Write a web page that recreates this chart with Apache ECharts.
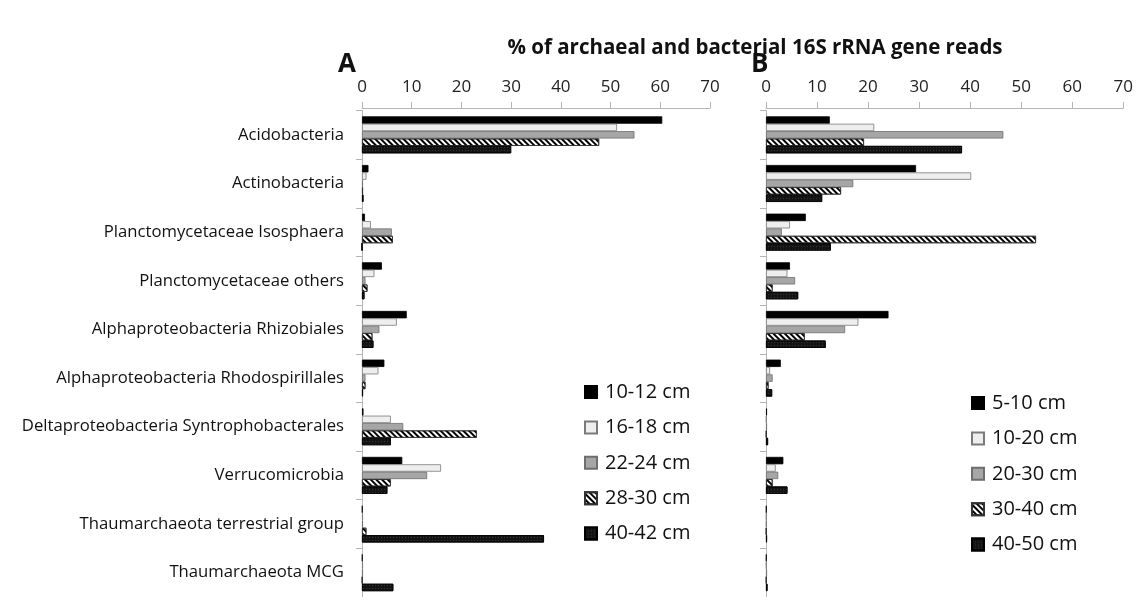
<!DOCTYPE html>
<html>
<head>
<meta charset="utf-8">
<script src="https://cdn.jsdelivr.net/npm/echarts@6/dist/echarts.min.js"></script>
<style>
  html, body { margin: 0; padding: 0; background: #fff; }
  #chart { width: 1136px; height: 597px; }
</style>
</head>
<body>
<div id="chart"></div>
<script>
// categories (top to bottom)
var categories = [
  'Acidobacteria',
  'Actinobacteria',
  'Planctomycetaceae Isosphaera',
  'Planctomycetaceae others',
  'Alphaproteobacteria Rhizobiales',
  'Alphaproteobacteria Rhodospirillales',
  'Deltaproteobacteria Syntrophobacterales',
  'Verrucomicrobia',
  'Thaumarchaeota terrestrial group',
  'Thaumarchaeota MCG'
];
var xTicks = [0, 70, 10];

// panel A depths
var depthsA = ['10-12 cm', '16-18 cm', '22-24 cm', '28-30 cm', '40-42 cm'];
var a1012 = [60.4, 1.3, 0.6, 4.0, 9.0, 4.5, 0.3, 8.1, 0.1, 0.1];
var a1618 = [51.3, 0.9, 1.8, 2.5, 7.0, 3.3, 5.8, 15.9, 0.2, 0.2];
var a2224 = [54.8, 0.2, 6.0, 0.7, 3.5, 0.7, 8.3, 13.1, 0.2, 0.2];
var a2830 = [47.7, 0.2, 6.2, 1.1, 2.1, 0.7, 23.1, 5.8, 0.9, 0.1];
var a4042 = [30.0, 0.3, 0.0, 0.5, 2.3, 0.2, 5.8, 5.1, 36.6, 6.3];

// panel B depths
var depthsB = ['5-10 cm', '10-20 cm', '20-30 cm', '30-40 cm', '40-50 cm'];
var b0510 = [12.5, 29.4, 7.8, 4.7, 24.0, 2.9, 0.2, 3.4, 0.1, 0.1];
var b1020 = [21.2, 40.2, 4.7, 4.2, 18.1, 0.8, 0.1, 1.9, 0.1, 0.1];
var b2030 = [46.5, 17.1, 3.1, 5.7, 15.5, 1.3, 0.2, 2.4, 0.1, 0.2];
var b3040 = [19.2, 14.7, 52.9, 1.3, 7.6, 0.5, 0.1, 1.3, 0.1, 0.1];
var b4050 = [38.4, 11.0, 12.7, 6.3, 11.7, 1.2, 0.4, 4.2, 0.2, 0.3];

var FONT = 'Open Sans';

// fill styles, one per depth position
var fills = [
  { color: '#000000', borderColor: '#000000', borderWidth: 0.8 },
  { color: '#eeeeee', borderColor: '#7a7a7a', borderWidth: 0.8 },
  { color: '#a6a6a6', borderColor: '#6e6e6e', borderWidth: 0.8 },
  { color: '#ffffff', borderColor: '#333333', borderWidth: 0.8,
    decal: { symbol: 'rect', symbolSize: 1, color: '#000000',
             dashArrayX: [1, 0], dashArrayY: [2, 2], rotation: Math.PI / 4 } },
  { color: '#141414', borderColor: '#000000', borderWidth: 0.8,
    decal: { symbol: 'rect', symbolSize: 1, color: 'rgba(90,90,90,0.45)',
             dashArrayX: [1, 2], dashArrayY: [1, 2], rotation: 0 } }
];

function makeSeries(names, values, idx) {
  return names.map(function (n, i) {
    return {
      name: n,
      type: 'bar',
      xAxisIndex: idx,
      yAxisIndex: idx,
      barGap: '0%',
      barCategoryGap: '24%',
      itemStyle: fills[i],
      data: values[i]
    };
  });
}

function xAxisCfg(idx) {
  return {
    type: 'value',
    gridIndex: idx,
    position: 'top',
    offset: 2.5,
    min: xTicks[0],
    max: xTicks[1],
    interval: xTicks[2],
    axisLine: { show: true, lineStyle: { color: '#b5b5b5', width: 1 } },
    axisTick: { show: true, length: 6, lineStyle: { color: '#b5b5b5' } },
    axisLabel: { fontFamily: FONT, fontSize: 17, color: '#222', margin: 12 },
    splitLine: { show: false }
  };
}

function yAxisCfg(idx, showLabels) {
  return {
    type: 'category',
    gridIndex: idx,
    inverse: true,
    data: categories,
    axisLine: { show: true, lineStyle: { color: '#b5b5b5', width: 1 } },
    axisTick: { show: true, length: 6, lineStyle: { color: '#b5b5b5' } },
    axisLabel: { show: showLabels, fontFamily: FONT, fontSize: 16.7, color: '#111', margin: 18 }
  };
}

function legendCfg(names, left, top) {
  return {
    data: names, orient: 'vertical', left: left, top: top,
    itemWidth: 12, itemHeight: 12, itemGap: 15.4, icon: 'rect',
    textStyle: { fontFamily: FONT, fontSize: 20, color: '#111', lineHeight: 18, padding: [0, 0, 0, 3] }
  };
}

var chart = echarts.init(document.getElementById('chart'), null, { renderer: 'canvas' });
var option = {
  backgroundColor: '#ffffff',
  animation: false,
  title: [
    { text: '% of archaeal and bacterial 16S rRNA gene reads', left: 750, top: 33, textAlign: 'center',
      textStyle: { fontFamily: FONT, fontSize: 20.5, fontWeight: 'bold', color: '#111' } },
    { text: 'A', left: 333, top: 47,
      textStyle: { fontFamily: FONT, fontSize: 26, fontWeight: 'bold', color: '#111' } },
    { text: 'B', left: 746, top: 47,
      textStyle: { fontFamily: FONT, fontSize: 26, fontWeight: 'bold', color: '#111' } }
  ],
  grid: [
    { left: 362, width: 348, top: 110.5, height: 493.5, containLabel: false },
    { left: 766, width: 358, top: 110.5, height: 493.5, containLabel: false }
  ],
  legend: [legendCfg(depthsA, 579, 377), legendCfg(depthsB, 966, 388)],
  xAxis: [xAxisCfg(0), xAxisCfg(1)],
  yAxis: [yAxisCfg(0, true), yAxisCfg(1, false)],
  series: makeSeries(depthsA, [a1012, a1618, a2224, a2830, a4042], 0)
    .concat(makeSeries(depthsB, [b0510, b1020, b2030, b3040, b4050], 1))
};
chart.setOption(option);
</script>
</body>
</html>
